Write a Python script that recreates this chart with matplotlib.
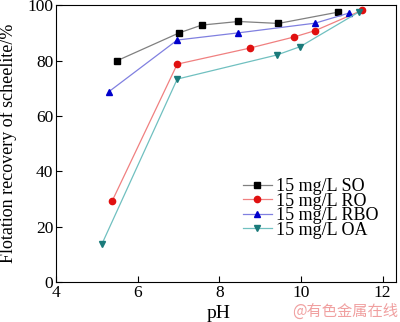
import matplotlib
matplotlib.use("Agg")
import matplotlib.pyplot as plt

# data
ph_so = [5.49, 7.02, 7.57, 8.47, 9.45, 10.92]
rec_so = [79.9, 90.0, 92.8, 94.1, 93.4, 97.5]

ph_ro = [5.38, 6.97, 8.75, 9.83, 10.35, 11.49]
rec_ro = [29.4, 78.7, 84.5, 88.5, 90.8, 98.1]

ph_rbo = [5.30, 6.97, 8.47, 10.35, 11.19]
rec_rbo = [68.8, 87.4, 90.0, 93.5, 97.2]

ph_oa = [5.13, 6.97, 9.41, 9.98, 11.43]
rec_oa = [13.9, 73.3, 82.0, 85.0, 97.6]

labels = ["15 mg/L SO", "15 mg/L RO", "15 mg/L RBO", "15 mg/L OA"]

plt.rcParams['font.family'] = ['Liberation Serif', 'DejaVu Serif']

fig = plt.figure(figsize=(4, 3.22), dpi=100)
ax = fig.add_axes([0.14, 0.124, 0.85, 0.86])

ax.plot(ph_so, rec_so, color='#808080', lw=0.9, marker='s', ms=4,
        mfc='black', mec='black', label=labels[0])
ax.plot(ph_ro, rec_ro, color='#f08080', lw=0.9, marker='o', ms=4.5,
        mfc='#e01010', mec='#e01010', label=labels[1])
ax.plot(ph_rbo, rec_rbo, color='#8080e0', lw=0.9, marker='^', ms=5,
        mfc='#0000cc', mec='#0000cc', label=labels[2])
ax.plot(ph_oa, rec_oa, color='#70c0c0', lw=0.9, marker='v', ms=5,
        mfc='#1a7a7a', mec='#1a7a7a', label=labels[3])

ax.set_xlim(4, 12.33)
ax.set_ylim(0, 100)
ax.set_xticks([4, 6, 8, 10, 12])
ax.set_yticks([0, 20, 40, 60, 80, 100])
ax.tick_params(direction='in', labelsize=12.5, length=4, width=0.8,
               top=False, right=False, pad=2)
for s in ax.spines.values():
    s.set_linewidth(0.8)

ax.set_xlabel("pH", fontsize=14)
ax.xaxis.set_label_coords(0.479, -0.083)
ax.set_ylabel("Flotation recovery of scheelite/%", fontsize=13)
ax.yaxis.set_label_coords(-0.115, 0.5)

ax.legend(loc='lower left', bbox_to_anchor=(0.55, 0.157), frameon=False,
          fontsize=13, handlelength=1.6, handletextpad=0.25,
          labelspacing=-0.14, borderaxespad=0, borderpad=0)

fig.text(0.995, 0.008, "@有色金属在线", ha='right', va='bottom', fontsize=11,
         color='#f0a0a0', family=['Noto Sans CJK SC', 'DejaVu Sans'])

fig.savefig("out.png", dpi=100)
